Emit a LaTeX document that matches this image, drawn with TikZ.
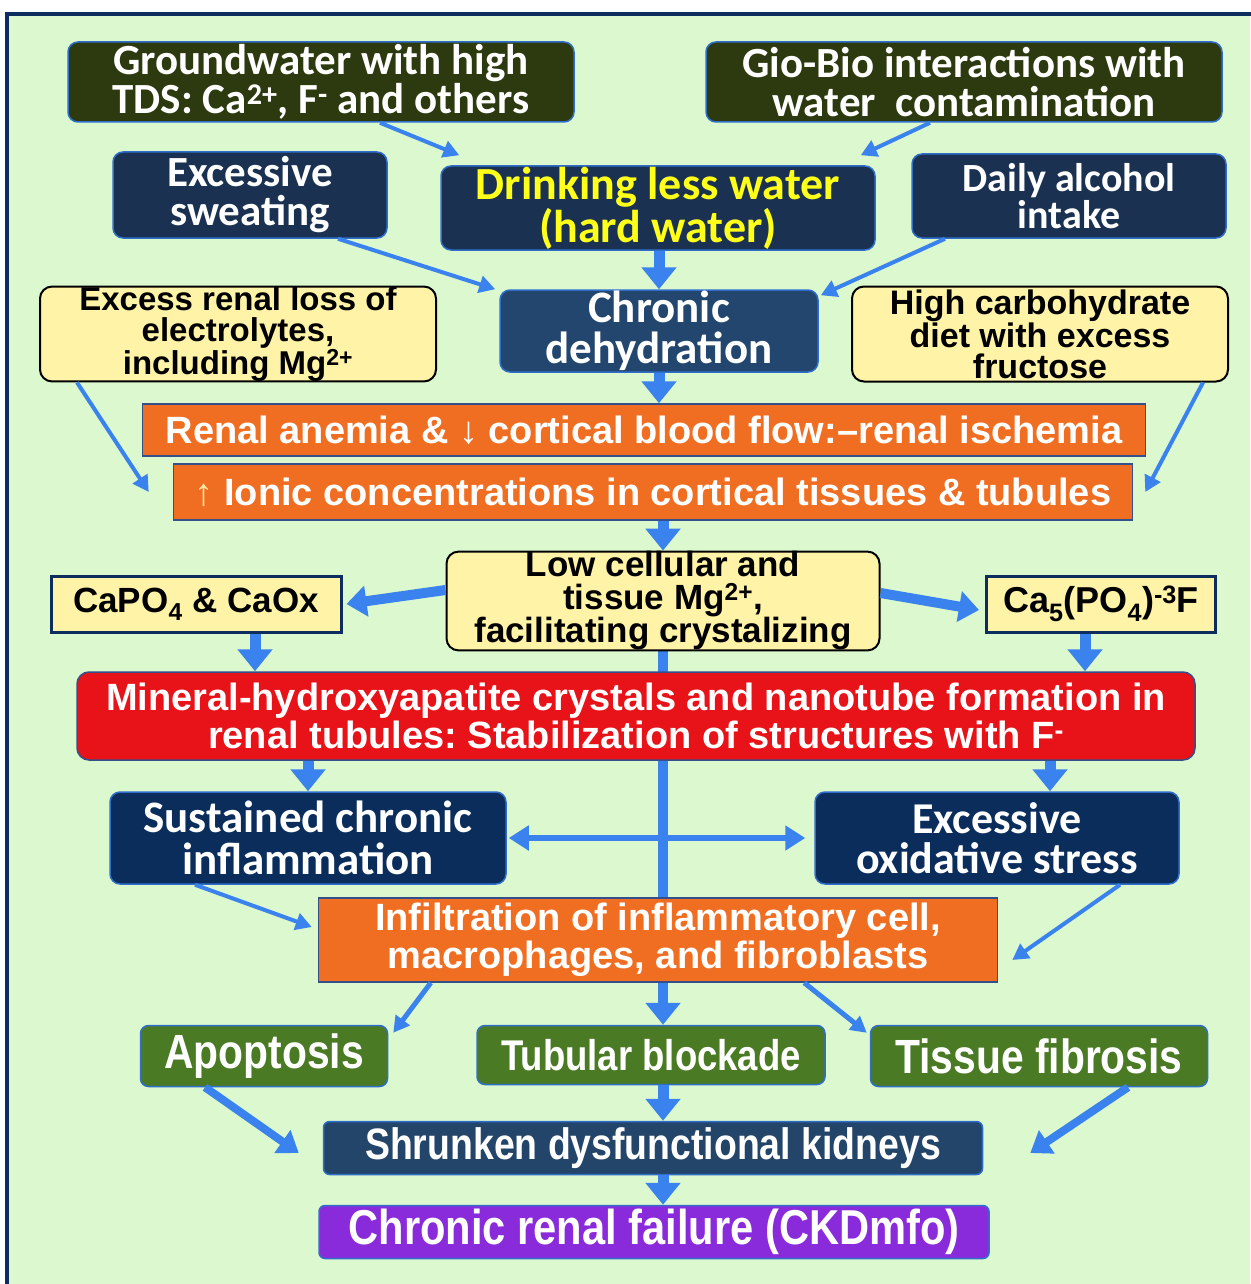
\documentclass[tikz,border=0pt]{standalone}
\usepackage{fontspec}
\usetikzlibrary{arrows.meta}
\newfontfamily\cfont{Carlito}
\newfontfamily\afont{Liberation Sans}
\newfontfamily\nfont[FakeStretch=0.85]{Liberation Sans}
\definecolor{bggreen}{HTML}{DCF8CE}
\definecolor{framec}{HTML}{0C2D5E}
\definecolor{olive}{HTML}{2D3A10}
\definecolor{navyA}{HTML}{1A3152}
\definecolor{navyB}{HTML}{23466F}
\definecolor{navyC}{HTML}{0B2D5C}
\definecolor{slate}{HTML}{24456A}
\definecolor{bordblue}{HTML}{2F6FCB}
\definecolor{orangef}{HTML}{F06E22}
\definecolor{orangeb}{HTML}{34508A}
\definecolor{yelf}{HTML}{FFF3A8}
\definecolor{redf}{HTML}{E81219}
\definecolor{greenf}{HTML}{4A7A23}
\definecolor{purplef}{HTML}{8A2BDB}
\definecolor{arrowc}{HTML}{3A82EE}
\definecolor{yeltext}{HTML}{FFFF1A}
\definecolor{uparrowc}{HTML}{FFE9A0}
\pgfdeclarelayer{bg}
\pgfsetlayers{bg,main}
\frenchspacing
\begin{document}
\begin{tikzpicture}[x=1pt,y=-1pt,
  sz/.style 2 args={minimum width=#1, minimum height=#2},
  base/.style={rectangle, align=center, inner sep=0pt},
  darkbox/.style={base, draw=bordblue, line width=1.5pt, rounded corners=10pt, text=white},
  olivebox/.style={darkbox, fill=olive},
  navybox/.style={darkbox, fill=navyA},
  yelbox/.style={base, fill=yelf, draw=black, line width=2pt, rounded corners=12pt, text=black},
  yelrect/.style={base, fill=yelf, draw=framec, line width=3pt, text=black},
  orbox/.style={base, fill=orangef, draw=orangeb, line width=1.5pt, text=white},
  redbox/.style={base, fill=redf, draw=orangeb, line width=1.5pt, rounded corners=12pt, text=white},
  grbox/.style={darkbox, fill=greenf, rounded corners=8pt},
  thin/.style={draw=arrowc, line width=4pt, -{Triangle[length=16pt,width=17pt]}},
  mid/.style={draw=arrowc, line width=8pt, -{Triangle[length=20pt,width=27pt]}},
  thick/.style={draw=arrowc, line width=11pt, -{Triangle[length=22pt,width=34pt]}}
]
\useasboundingbox (0,0) rectangle (1250,1284);

% nodes
\node[olivebox, sz={506pt}{80pt}, font=\cfont\bfseries\fontsize{43}{39}\selectfont] (gw) at (321,82)
  {Groundwater with high\\TDS: Ca\textsuperscript{2+}, F\textsuperscript{-} and others};
\node[olivebox, sz={516pt}{80pt}, font=\cfont\bfseries\fontsize{43}{39}\selectfont] (gio) at (964,82)
  {Gio-Bio interactions with\\water\ \ contamination};
\node[navybox, sz={274pt}{86pt}, font=\cfont\bfseries\fontsize{43}{39}\selectfont] (sweat) at (250,195)
  {Excessive\\sweating};
\node[navybox, sz={434pt}{84pt}, text=yeltext, font=\cfont\bfseries\fontsize{46}{38}\selectfont] (drink) at (658,208)
  {Drinking less water\\(hard water)};
\node[navybox, sz={314pt}{84pt}, font=\cfont\bfseries\fontsize{40}{37}\selectfont] (alc) at (1069,196)
  {Daily alcohol\\intake};
\node[darkbox, fill=navyB, sz={318pt}{82pt}, font=\cfont\bfseries\fontsize{45}{41}\selectfont] (dehyd) at (659,331)
  {Chronic\\dehydration};
\node[yelbox, sz={396pt}{88pt}, font=\afont\bfseries\fontsize{33}{31}\selectfont] (loss) at (238,334)
  {Excess renal loss of\\electrolytes,\\including Mg\textsuperscript{2+}};
\node[yelbox, sz={376pt}{95pt}, font=\afont\bfseries\fontsize{34}{31}\selectfont] (carb) at (1040,334)
  {High carbohydrate\\diet with excess\\fructose};
\node[orbox, sz={1003pt}{52pt}, font=\afont\bfseries\fontsize{38}{40}\selectfont] (anem) at (644,430)
  {Renal anemia \& ↓ cortical blood flow:–renal ischemia};
\node[orbox, sz={959pt}{56pt}, font=\afont\bfseries\fontsize{38}{40}\selectfont] (ionic) at (653,492)
  {\textcolor{uparrowc}{↑} Ionic concentrations in cortical tissues \& tubules};
\node[yelbox, sz={433pt}{98pt}, font=\afont\bfseries\fontsize{35}{33}\selectfont] (low) at (663,601)
  {Low cellular and\\tissue Mg\textsuperscript{2+},\\facilitating crystalizing};
\node[yelrect, sz={290pt}{56pt}, font=\afont\bfseries\fontsize{35}{40}\selectfont] (capo) at (196,604)
  {CaPO\textsubscript{4} \& CaOx};
\node[yelrect, sz={229pt}{56pt}, font=\afont\bfseries\fontsize{36}{40}\selectfont] (ca5) at (1101,604)
  {Ca\textsubscript{5}(PO\textsubscript{4})\textsuperscript{-3}F};
\node[redbox, sz={1118pt}{88pt}, font=\afont\bfseries\fontsize{38}{38}\selectfont] (mineral) at (636,716)
  {Mineral-hydroxyapatite crystals and nanotube formation in\\renal tubules: Stabilization of structures with F\textsuperscript{-}};
\node[darkbox, fill=navyC, sz={396pt}{92pt}, font=\cfont\bfseries\fontsize{45}{42}\selectfont] (sust) at (308,838)
  {Sustained chronic\\inflammation};
\node[darkbox, fill=navyC, sz={364pt}{92pt}, font=\cfont\bfseries\fontsize{44}{40}\selectfont] (oxid) at (997,838)
  {Excessive\\oxidative stress};
\node[orbox, sz={679pt}{84pt}, font=\afont\bfseries\fontsize{38}{38}\selectfont] (infil) at (658,940)
  {Infiltration of inflammatory cell,\\macrophages, and fibroblasts};
\node[grbox, sz={247pt}{61pt}, font=\nfont\bfseries\fontsize{48}{50}\selectfont] (apop) at (264,1056)
  {Apoptosis};
\node[grbox, sz={348pt}{59pt}, font=\nfont\bfseries\fontsize{43}{50}\selectfont] (tub) at (651,1055)
  {Tubular blockade};
\node[grbox, sz={337pt}{61pt}, font=\nfont\bfseries\fontsize{48}{50}\selectfont] (fib) at (1039,1056)
  {Tissue fibrosis};
\node[darkbox, fill=slate, rounded corners=6pt, sz={659pt}{53pt}, font=\nfont\bfseries\fontsize{44}{50}\selectfont] (shrunk) at (653,1148)
  {Shrunken dysfunctional kidneys};
\node[darkbox, fill=purplef, rounded corners=6pt, sz={670pt}{53pt}, font=\nfont\bfseries\fontsize{49}{50}\selectfont] (crf) at (654,1232)
  {Chronic renal failure (CKDmfo)};

% background and long line behind boxes
\begin{pgfonlayer}{bg}
  \fill[white] (0,0) rectangle (1250,1284);
  \fill[bggreen] (7,14) rectangle (1250,1284);
  \draw[framec, line width=4pt] (7,1284) -- (7,14) -- (1252,14);
  \draw[thick, line width=10pt] (low.south) -- (low.south |- tub.north);
\end{pgfonlayer}

% arrows
\draw[thin] ([xshift=59pt]gw.south) -- ([xshift=19pt,yshift=10pt]drink.north west);
\draw[thin] ([xshift=-34pt]gio.south) -- ([xshift=-15pt,yshift=10pt]drink.north east);
\draw[thin] ([xshift=88pt]sweat.south) -- ([xshift=-4pt]dehyd.north west);
\draw[thin] ([xshift=-124pt]alc.south) -- ([xshift=2pt,yshift=-6pt]dehyd.north east);
\draw[thick] (drink.south -| dehyd.north) -- (dehyd.north);
\draw[thick] (dehyd.south) -- (dehyd.south |- anem.north);
\draw[thin] ([xshift=38pt]loss.south west) -- ([xshift=-24pt]ionic.west);
\draw[thin] ([xshift=-26pt]carb.south east) -- ([xshift=12pt]ionic.east);
\draw[thick] (ionic.south -| low.north) -- (low.north);
\draw[thick, line width=10pt, -{Triangle[length=20pt,width=30pt]}] ([yshift=11pt]low.west) -- ([xshift=4pt]capo.east);
\draw[thick, line width=10pt, -{Triangle[length=20pt,width=30pt]}] ([yshift=8pt]low.east) -- ([xshift=-6pt,yshift=-6pt]ca5.west);
\draw[thick] ([xshift=59pt]capo.south) -- ([xshift=59pt]capo.south |- mineral.north);
\draw[thick] ([xshift=-16pt]ca5.south) -- ([xshift=-16pt]ca5.south |- mineral.north);
\draw[thick] (sust.north |- mineral.south) -- (sust.north);
\draw[thick] ([xshift=53pt]oxid.north |- mineral.south) -- ([xshift=53pt]oxid.north);
\draw[draw=arrowc, line width=6pt, {Triangle[length=20pt,width=24pt]}-{Triangle[length=20pt,width=24pt]}] ([xshift=2pt]sust.east) -- ([xshift=-9pt]oxid.west);
\draw[thin] ([xshift=-113pt]sust.south) -- ([xshift=-6pt,yshift=13pt]infil.west);
\draw[thin] ([xshift=123pt]oxid.south) -- ([xshift=14pt,yshift=-20pt]infil.east);
\draw[thin, line width=5pt] ([xshift=113pt]infil.south west) -- ([xshift=5pt,yshift=-8pt]apop.north east);
\draw[thin, line width=5pt] ([xshift=-194pt]infil.south east) -- ([xshift=-3pt,yshift=-8pt]fib.north west);
\draw[mid] ([xshift=-59pt]apop.south) -- ([xshift=-24pt,yshift=-5pt]shrunk.west);
\draw[thick] (tub.south -| low.south) -- (shrunk.north -| low.south);
\draw[mid] ([xshift=89pt]fib.south) -- ([xshift=47pt,yshift=-5pt]shrunk.east);
\draw[thick] (shrunk.south -| low.south) -- (crf.north -| low.south);
\end{tikzpicture}
\end{document}
